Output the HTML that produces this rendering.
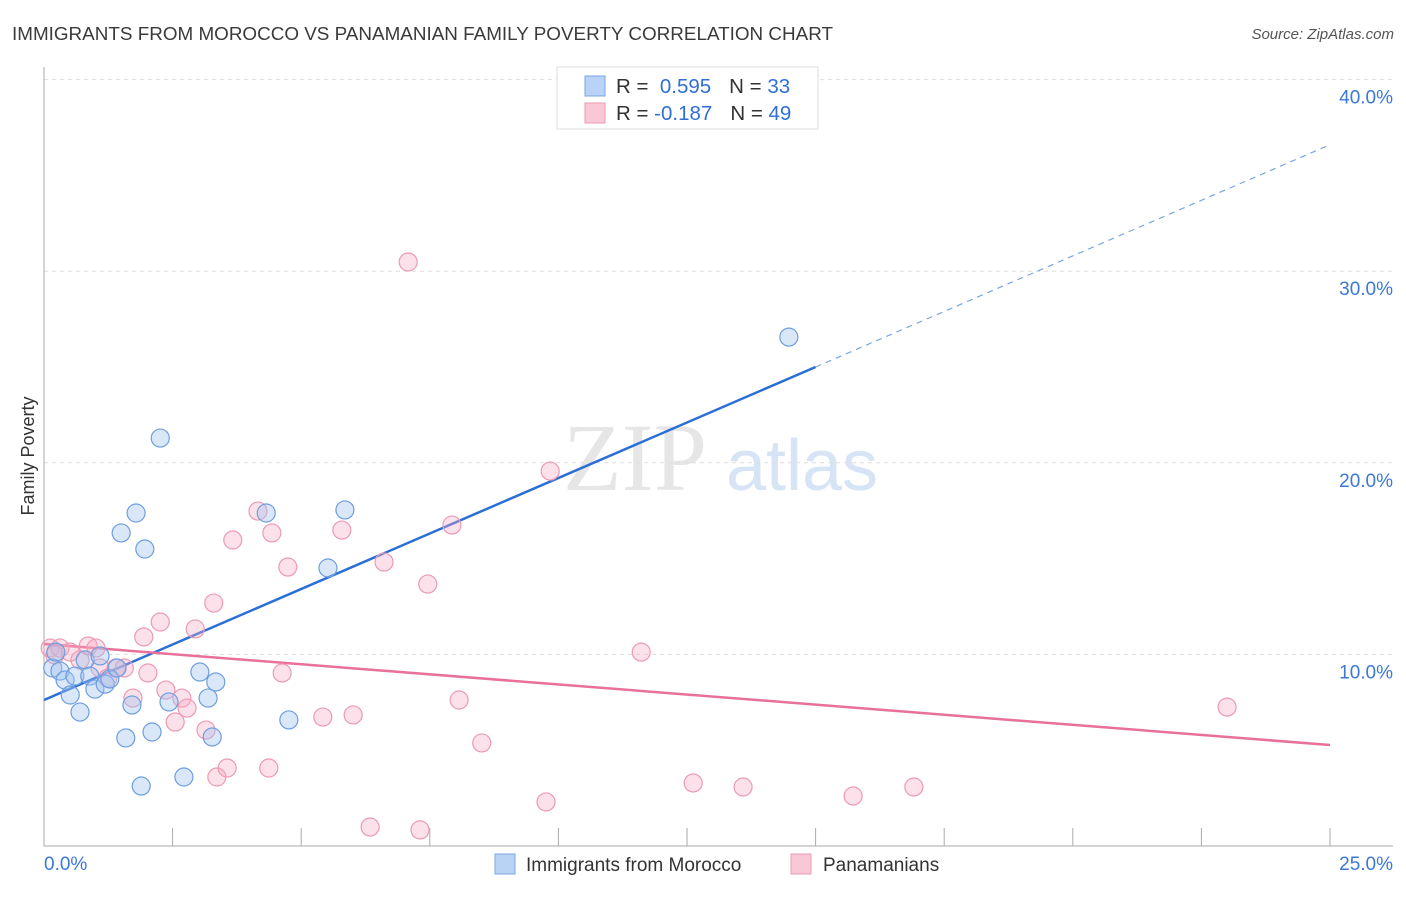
<!DOCTYPE html>
<html><head><meta charset="utf-8"><style>
body{margin:0;background:#fff;font-family:"Liberation Sans",sans-serif;}
</style></head><body>
<svg width="1406" height="892" xmlns="http://www.w3.org/2000/svg" id="chart" style="font-family:'Liberation Sans',sans-serif">
<text x="12" y="40" font-size="18" fill="#3a3a3a" textLength="821" lengthAdjust="spacingAndGlyphs">IMMIGRANTS FROM MOROCCO VS PANAMANIAN FAMILY POVERTY CORRELATION CHART</text>
<text x="1394" y="39" font-size="15" fill="#555" font-style="italic" text-anchor="end">Source: ZipAtlas.com</text>
<text x="34" y="456" font-size="18" fill="#333" transform="rotate(-90 34 456)" text-anchor="middle">Family Poverty</text>
<g><text x="635" y="490" font-size="96" font-family="Liberation Serif,serif" fill="#e6e6e6" text-anchor="middle">ZIP</text><text x="802" y="490" font-size="72" fill="#d6e4f5" text-anchor="middle">atlas</text></g>
<g id="grid"></g><g id="axes"></g><g id="lines"></g><g id="pts"></g>
<g>
<rect x="557" y="67" width="261" height="62" fill="#fff" stroke="#ddd"/>
<rect x="585" y="76" width="20" height="20" fill="#b8d3f5" stroke="#7aa5e0"/>
<rect x="585" y="103" width="20" height="20" fill="#f8c8d6" stroke="#ec9ab2"/>
<text x="616" y="93" font-size="20.5" fill="#333">R = <tspan fill="#2f6fd6">&#160;0.595</tspan><tspan dx="18">N = </tspan><tspan fill="#2f6fd6">33</tspan></text>
<text x="616" y="120" font-size="20.5" fill="#333">R = <tspan fill="#2f6fd6">-0.187</tspan><tspan dx="18">N = </tspan><tspan fill="#2f6fd6">49</tspan></text>
</g>
<g>
<rect x="495" y="854" width="20" height="20" fill="#b8d3f5" stroke="#7aa5e0"/>
<text x="526" y="871" font-size="19" fill="#333">Immigrants from Morocco</text>
<rect x="791" y="854" width="20" height="20" fill="#f8c8d6" stroke="#ec9ab2"/>
<text x="823" y="871" font-size="19" fill="#333">Panamanians</text>
</g>
</svg>
<script>
const blueX=[0.17,0.31,0.23,0.41,0.51,0.60,0.70,0.80,0.89,0.99,1.09,1.19,1.28,1.42,1.50,1.59,1.71,1.79,1.89,1.96,2.10,2.26,2.43,2.72,3.03,3.19,3.27,3.34,4.32,4.76,5.52,5.85,14.48];
const blueY=[9.29,9.13,10.12,8.66,7.88,8.87,6.99,9.71,8.87,8.19,9.92,8.45,8.72,9.29,16.34,5.64,7.36,17.38,3.13,15.50,5.95,21.29,7.52,3.60,9.08,7.72,5.69,8.56,17.38,6.58,14.51,17.54,26.56];
const pinkX=[0.12,0.21,0.31,0.51,0.70,0.86,1.01,1.09,1.24,1.40,1.56,1.73,1.94,2.02,2.26,2.37,2.55,2.68,2.78,2.94,3.15,3.30,3.36,3.56,3.67,4.16,4.37,4.43,4.63,4.74,5.42,5.79,6.01,6.34,6.61,7.08,7.31,7.46,7.93,8.07,8.51,9.76,9.84,11.61,12.62,13.59,15.73,16.91,23.00];
const pinkY=[10.33,9.97,10.33,10.12,9.71,10.44,10.33,9.29,8.77,9.29,9.29,7.72,10.91,9.03,11.69,8.14,6.47,7.72,7.20,11.33,6.05,12.68,3.60,4.07,15.97,17.48,4.07,16.34,9.03,14.56,6.73,16.49,6.84,0.99,14.82,30.48,0.84,13.67,16.75,7.62,5.38,2.30,19.57,10.12,3.29,3.08,2.61,3.08,7.25];
const blueTrend=[7.62,25.0,36.6]; // at x=0, 15, 25
const pinkTrend=[10.54,5.27]; // at x=0, 25
const yTicks=[10,20,30,40];
const xTickLabels=["0.0%","25.0%"];
const NS="http://www.w3.org/2000/svg";
const sx=v=>44+v/25*1286, sy=v=>846-v/10*191.6;
function mk(tag,attrs,parent){const e=document.createElementNS(NS,tag);for(const k in attrs)e.setAttribute(k,attrs[k]);document.getElementById(parent).appendChild(e);return e;}
yTicks.forEach(t=>{
 const l=mk('line',{x1:44,x2:1393,y1:sy(t),y2:sy(t),stroke:'#ddd','stroke-dasharray':'4,4'},'grid');
 
 
 const tx=mk('text',{x:1393,y:sy(t)+24,'font-size':19,fill:'#3b78d8','text-anchor':'end'},'grid');
 tx.textContent=t.toFixed(1)+'%';
 
 
});
const ya=mk('line',{x1:44,x2:44,y1:67,y2:846,stroke:'#aaa'},'axes');


const xa=mk('line',{x1:44,x2:1393,y1:846,y2:846,stroke:'#aaa'},'axes');


for(let i=0;i<=10;i++){const x=sx(i*2.5);const t=mk('line',{x1:x,x2:x,y1:828,y2:846,stroke:'#aaa'},'axes');
 
 }
[[0,'start',44],[25,'end',1393]].forEach((d,i)=>{const t=mk('text',{x:d[2],y:870,'font-size':19,fill:'#3b78d8','text-anchor':d[1]},'axes');t.textContent=xTickLabels[i];
 
 });
const b1=mk('line',{x1:sx(0),y1:sy(blueTrend[0]),x2:sx(15),y2:sy(blueTrend[1]),stroke:'#2a6fd6','stroke-width':2.5},'lines');


const b2=mk('line',{x1:sx(15),y1:sy(blueTrend[1]),x2:sx(25),y2:sy(blueTrend[2]),stroke:'#7aa5e0','stroke-width':1.2,'stroke-dasharray':'6,5'},'lines');


const p1=mk('line',{x1:sx(0),y1:sy(pinkTrend[0]),x2:sx(25),y2:sy(pinkTrend[1]),stroke:'#e8709a','stroke-width':2.5},'lines');


pinkX.forEach((x,i)=>{const c=mk('circle',{cx:sx(x),cy:sy(pinkY[i]),r:9,fill:'rgba(245,170,195,0.35)',stroke:'#ec9ab2','stroke-width':1.2},'pts');
 
 });
blueX.forEach((x,i)=>{const c=mk('circle',{cx:sx(x),cy:sy(blueY[i]),r:9,fill:'rgba(160,196,240,0.4)',stroke:'#6d9ee0','stroke-width':1.2},'pts');
 
 });
</script>
</body></html>
